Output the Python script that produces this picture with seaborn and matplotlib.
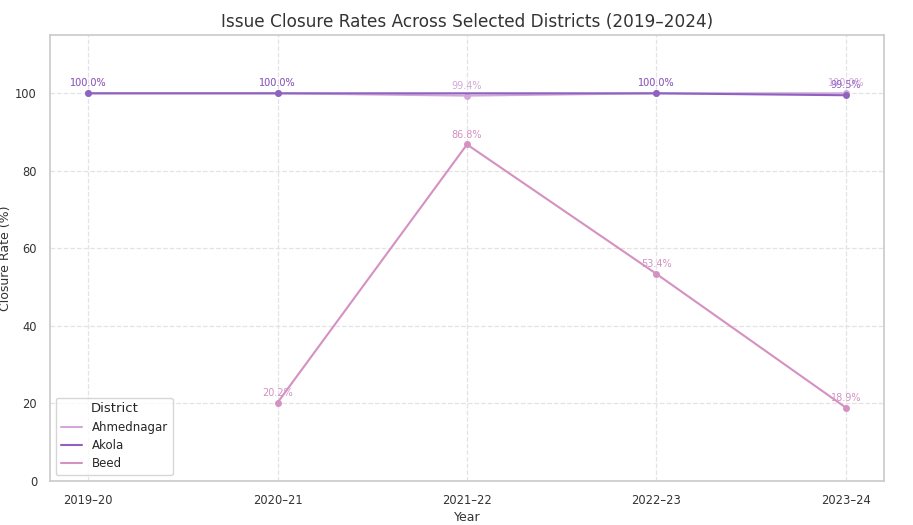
import matplotlib
matplotlib.use("Agg")
import matplotlib.pyplot as plt
import pandas as pd
import seaborn as sns

years = ["2019–20", "2020–21", "2021–22", "2022–23", "2023–24"]
ahmednagar = [100.0, 100.0, 99.4, 100.0, 100.0]
akola = [100.0, 100.0, None, 100.0, 99.5]
beed = [None, 20.2, 86.8, 53.4, 18.9]
districts = ["Ahmednagar", "Akola", "Beed"]
colors = {"Ahmednagar": "#d1a8d8", "Akola": "#8f62c2", "Beed": "#d491c1"}

rows = []
for name, vals in zip(districts, [ahmednagar, akola, beed]):
    for yr, v in zip(years, vals):
        if v is not None:
            rows.append({"Year": yr, "District": name, "Closure Rate (%)": v})
df = pd.DataFrame(rows)
df["x"] = df["Year"].map({y: i for i, y in enumerate(years)})

sns.set_theme(style="whitegrid")
fig, ax = plt.subplots(figsize=(9.13, 5.25), dpi=100)

sns.lineplot(
    data=df, x="x", y="Closure Rate (%)", hue="District", hue_order=districts,
    palette=colors, marker="o", markersize=5, markeredgewidth=0, linewidth=1.5,
    ax=ax,
)

for name in districts:
    sub = df[df["District"] == name]
    for _, r in sub.iterrows():
        ax.annotate(f"{r['Closure Rate (%)']:.1f}%", (r["x"], r["Closure Rate (%)"]),
                    textcoords="offset points", xytext=(0, 5), ha="center",
                    fontsize=7, color=colors[name])

ax.set_xticks(range(len(years)))
ax.set_xticklabels(years)
ax.set_xlim(-0.2, 4.2)
ax.set_ylim(0, 115)
ax.grid(True, linestyle="--", color="#e3e3e3", linewidth=0.9)
for s in ax.spines.values():
    s.set_color("#cccccc")
ax.tick_params(labelsize=8.3, colors="#333333")
ax.set_xlabel("Year", fontsize=9, color="#333333", labelpad=3)
ax.set_ylabel("Closure Rate (%)", fontsize=9, color="#333333", labelpad=2)
ax.set_title("Issue Closure Rates Across Selected Districts (2019–2024)",
             fontsize=12.2, color="#333333", pad=6)

leg = ax.legend(title="District", loc="lower left", fontsize=8.5, title_fontsize=9.5,
                handlelength=1.8, labelspacing=0.45)
for h in leg.legend_handles:
    h.set_marker("")

fig.subplots_adjust(left=0.055, right=0.968, top=0.933, bottom=0.084)
fig.savefig("out.png", dpi=100)
